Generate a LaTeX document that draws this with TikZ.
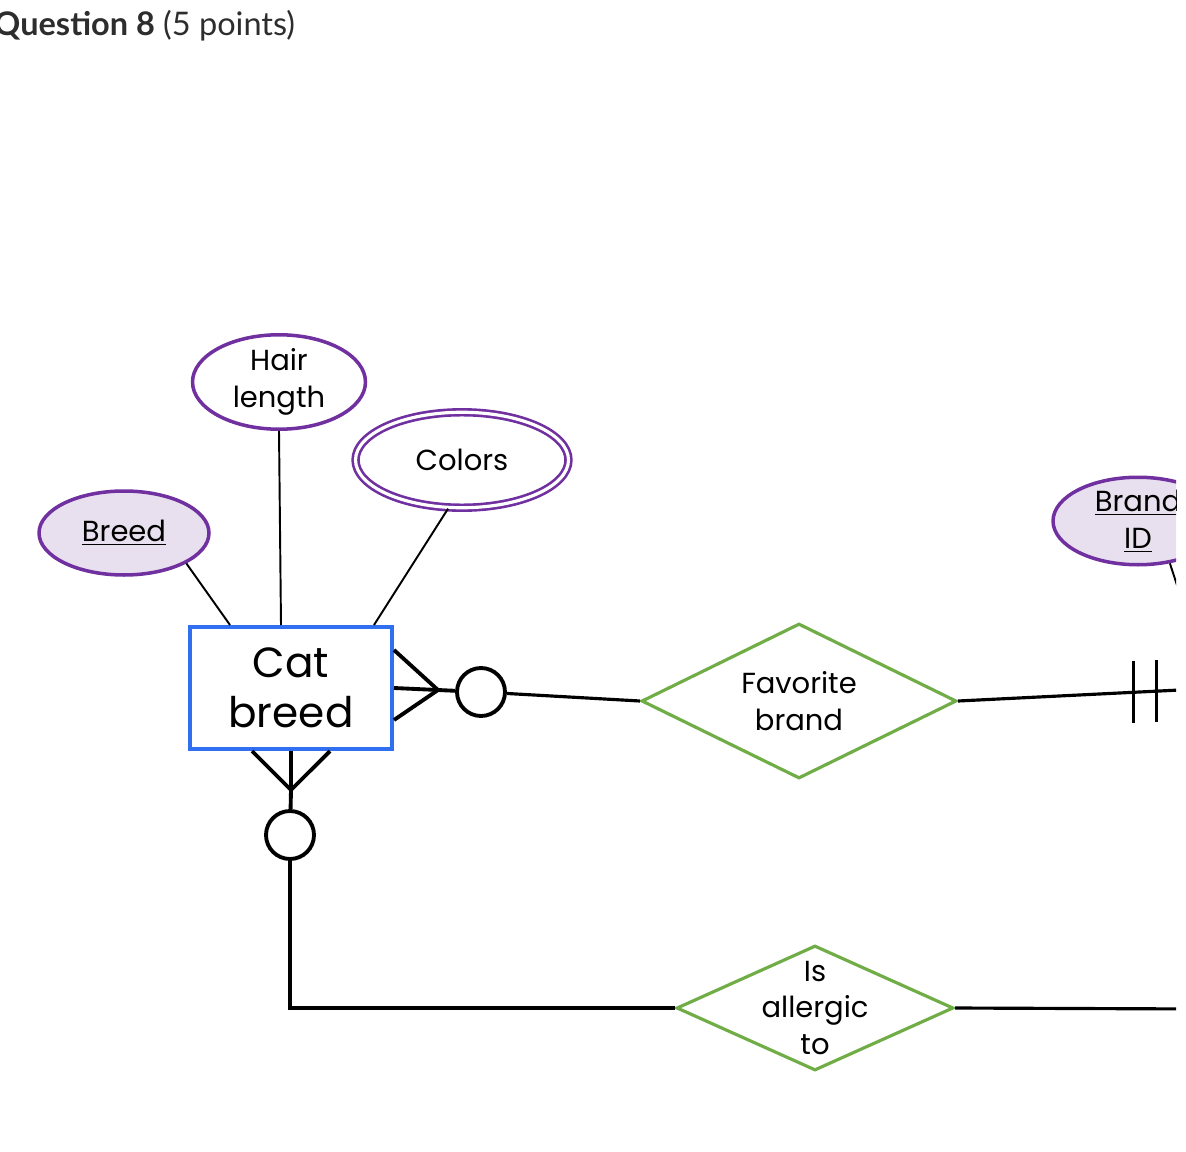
\documentclass[tikz,border=0pt]{standalone}
\usepackage{fontspec}
\setmainfont{Poppins}
\newfontfamily\titlefont{Lato}
\usetikzlibrary{shapes.geometric,calc,positioning}
\definecolor{erpurple}{HTML}{7030A0}
\definecolor{erlilac}{HTML}{E8E0EE}
\definecolor{erblue}{HTML}{2F6FF0}
\definecolor{ergreen}{HTML}{70AD47}
\definecolor{titlegray}{HTML}{2D2D2D}
\tikzset{
    attr/.style={ellipse,draw=erpurple,line width=2pt,fill=white,inner sep=0pt,font=\fontsize{16.5}{21}\selectfont,align=center},
    keyattr/.style={attr,fill=erlilac},
    multiattr/.style={attr,double=white,double distance=1.8pt,line width=1.5pt},
    entity/.style={rectangle,draw=erblue,line width=2.3pt,minimum width=4.04cm,minimum height=2.44cm,font=\fontsize{24}{28.5}\selectfont,align=center},
    rel/.style={diamond,draw=ergreen,line width=1.8pt,inner sep=0pt},
    reltext/.style={font=\fontsize{16.5}{21}\selectfont,align=center},
    attrline/.style={draw,line width=1.1pt},
    link/.style={draw,line width=1.8pt},
    foot/.style={draw,line width=2.2pt},
    optc/.style={circle,draw,line width=2.2pt,minimum size=0.96cm,inner sep=0pt},
}
\begin{document}
\begin{tikzpicture}[x=0.02cm,y=-0.02cm]
    \useasboundingbox (0,0) rectangle (1186,1152);
    \clip (0,0) rectangle (1176,1152);
    \node[anchor=base west,text=titlegray,font=\titlefont\fontsize{18.5}{23}\selectfont] (title) at (-12,36) {\textbf{Question 8} (5 points)};

    \node[keyattr,minimum width=3.4cm,minimum height=1.68cm] (breed) at (124,533) {\underline{Breed}};
    \node[attr,minimum width=3.46cm,minimum height=1.6cm] (hair) at (279,382) {Hair\\length};
    \node[multiattr,minimum width=4.26cm,minimum height=1.91cm] (colors) at (462,460) {Colors};
    \node[keyattr,minimum width=3.4cm,minimum height=1.68cm] (brand) at (1138,521) {\underline{Brand}\\\underline{ID}};
    \node[entity] (cat) at (291,688) {Cat\\breed};
    \node[rel,minimum width=6.3cm,minimum height=3.1cm] (fav) at (799,701) {};
    \node[reltext] (favtxt) at (fav) {Favorite\\brand};
    \node[rel,minimum width=5.54cm,minimum height=2.5cm] (alg) at (815,1008) {};
    \node[reltext] (algtxt) at (alg) {Is\\allergic\\to};
    \node[optc] (oR) at (481,692) {};
    \node[optc] (oB) at (290,835) {};
    \coordinate (fR) at (438,690);
    \coordinate (fB) at (291,790);
    \coordinate (brR) at (1200,689);
    \coordinate (alR) at (1200,1009);
    \coordinate (brX) at (1190,625);

    \draw[attrline] (breed.-26) -- ($(cat.north west)+(42,0)$);
    \draw[attrline] (hair.south) -- ($(cat.north)+(-10,0)$);
    \draw[attrline] (colors.-106) -- ($(cat.north east)+(-20,0)$);
    \draw[attrline] (brand.-53) -- (brX);

    \draw[foot] ($(cat.east)+(0,-38)$) -- (fR);
    \draw[foot] (cat.east) -- (fR);
    \draw[foot] ($(cat.east)+(0,32)$) -- (fR);
    \draw[foot] (fR) -- (oR);
    \draw[link] (oR) -- (fav.west);
    \draw[link] (fav.east) -- (brR);
    \draw[foot] ($(fav.east)!0.725!(brR)+(0,-31)$) -- ++(0,62);
    \draw[foot] ($(fav.east)!0.82!(brR)+(0,-31)$) -- ++(0,62);

    \draw[foot] ($(cat.south)+(-39,0)$) -- (fB);
    \draw[foot] (cat.south) -- (fB);
    \draw[foot] ($(cat.south)+(39,0)$) -- (fB);
    \draw[foot] (fB) -- (oB);
    \draw[link] (oB) |- (alg.west);
    \draw[link] (alg.east) -- (alR);
\end{tikzpicture}
\end{document}
